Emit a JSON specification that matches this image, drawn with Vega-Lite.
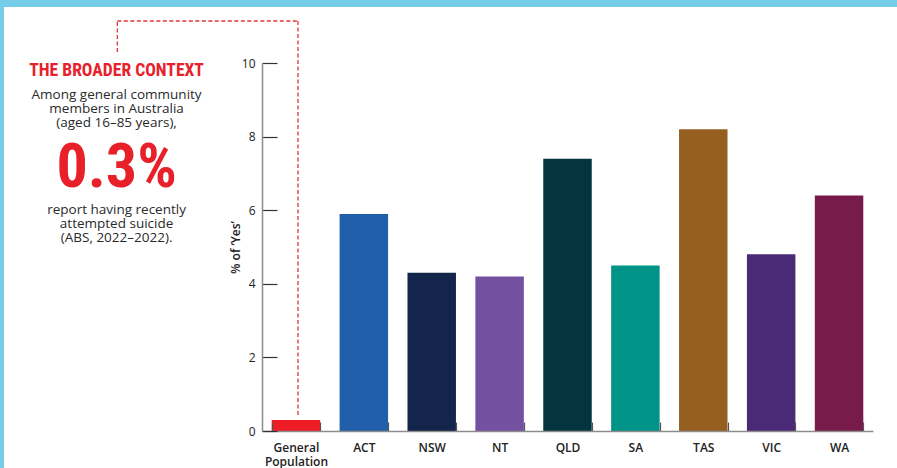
{
  "$schema": "https://vega.github.io/schema/vega-lite/v6.json",
  "width": 611,
  "height": 368,
  "autosize": "none",
  "padding": {"left": 262, "top": 63, "right": 24, "bottom": 37},
  "background": "#ffffff",
  "config": {"view": {"stroke": null}, "font": "Open Sans"},
  "resolve": {"scale": {"x": "independent", "y": "independent", "color": "independent"}},
  "layer": [
    {
      "data": {"values": [
        {"region": "General Population", "pct": 0.3},
        {"region": "ACT", "pct": 5.9},
        {"region": "NSW", "pct": 4.3},
        {"region": "NT", "pct": 4.2},
        {"region": "QLD", "pct": 7.4},
        {"region": "SA", "pct": 4.5},
        {"region": "TAS", "pct": 8.2},
        {"region": "VIC", "pct": 4.8},
        {"region": "WA", "pct": 6.4}
      ]},
      "mark": {"type": "bar"},
      "encoding": {
        "x": {
          "field": "region", "type": "nominal", "sort": null,
          "scale": {"paddingInner": 0.286, "paddingOuter": 0.143},
          "axis": {
            "title": null, "labelAngle": 0, "domainColor": "#8c8c8c", "domainWidth": 1.5,
            "tickColor": "#555555", "tickSize": -9, "tickWidth": 1.2, "tickBand": "extent",
            "labelPadding": 20, "labelFont": "Open Sans", "labelFontWeight": 600,
            "labelFontSize": 12, "labelColor": "#222222", "labelLineHeight": 14,
            "labelExpr": "datum.value == 'General Population' ? ['General', 'Population'] : datum.value",
            "zindex": 1
          }
        },
        "y": {
          "field": "pct", "type": "quantitative", "scale": {"domain": [0, 10]},
          "axis": {
            "title": "% of ‘Yes’", "values": [0, 2, 4, 6, 8, 10], "grid": false,
            "domainColor": "#8c8c8c", "domainWidth": 1.5, "tickColor": "#333333",
            "tickSize": -15, "tickWidth": 1.2, "labelPadding": 22, "labelFont": "Open Sans",
            "labelFontWeight": 500, "labelFontSize": 12, "labelColor": "#222222",
            "titleFont": "Open Sans", "titleFontWeight": 600, "titleFontSize": 12,
            "titleColor": "#222222", "titlePadding": -1, "zindex": 1
          }
        },
        "color": {
          "field": "region", "type": "nominal", "legend": null,
          "scale": {
            "domain": ["General Population", "ACT", "NSW", "NT", "QLD", "SA", "TAS", "VIC", "WA"],
            "range": ["#EE1D25", "#215FAB", "#13254B", "#7451A0", "#04353F", "#009387", "#965F22", "#4A2A77", "#781A4A"]
          }
        }
      }
    },
    {
      "data": {"values": [{}]},
      "layer": [
        {
          "mark": {"type": "rect", "color": "#76CDE8"},
          "encoding": {
            "x": {"datum": -43.5, "type": "quantitative", "scale": {"domain": [0, 100]}, "axis": null},
            "x2": {"datum": 104},
            "y": {"datum": 11.9, "type": "quantitative", "scale": {"domain": [0, 10]}, "axis": null},
            "y2": {"datum": 11.522}
          }
        },
        {
          "mark": {"type": "rect", "color": "#76CDE8"},
          "encoding": {
            "x": {"datum": -43.5, "type": "quantitative", "scale": {"domain": [0, 100]}, "axis": null},
            "x2": {"datum": -42.23},
            "y": {"datum": 11.9, "type": "quantitative", "scale": {"domain": [0, 10]}, "axis": null},
            "y2": {"datum": -1.1}
          }
        },
        {
          "mark": {"type": "rule", "color": "#E0353D", "strokeWidth": 1.3, "strokeDash": [4, 2.5]},
          "encoding": {
            "x": {"datum": -23.68, "type": "quantitative", "scale": {"domain": [0, 100]}, "axis": null},
            "y": {"datum": 10.3, "type": "quantitative", "scale": {"domain": [0, 10]}, "axis": null},
            "y2": {"datum": 11.141}
          }
        },
        {
          "mark": {"type": "rule", "color": "#E0353D", "strokeWidth": 1.3, "strokeDash": [4, 2.5]},
          "encoding": {
            "x": {"datum": -23.68, "type": "quantitative", "scale": {"domain": [0, 100]}, "axis": null},
            "x2": {"datum": 5.89},
            "y": {"datum": 11.141, "type": "quantitative", "scale": {"domain": [0, 10]}, "axis": null}
          }
        },
        {
          "mark": {"type": "rule", "color": "#E0353D", "strokeWidth": 1.3, "strokeDash": [4, 2.5]},
          "encoding": {
            "x": {"datum": 5.89, "type": "quantitative", "scale": {"domain": [0, 100]}, "axis": null},
            "y": {"datum": 11.141, "type": "quantitative", "scale": {"domain": [0, 10]}, "axis": null},
            "y2": {"datum": 0.435}
          }
        },
        {
          "mark": {"type": "text", "text": "THE BROADER CONTEXT", "align": "center", "baseline": "alphabetic",
                   "font": "'Roboto Condensed', 'DejaVu Sans Condensed', 'Liberation Sans'", "fontWeight": "bold", "fontSize": 17.6, "color": "#E8202A"},
          "encoding": {
            "x": {"datum": -23.8, "type": "quantitative", "scale": {"domain": [0, 100]}, "axis": null},
            "y": {"datum": 9.647, "type": "quantitative", "scale": {"domain": [0, 10]}, "axis": null}
          }
        },
        {
          "mark": {"type": "text", "text": ["Among general community", "members in Australia", "(aged 16–85 years),"],
                   "align": "center", "baseline": "alphabetic", "lineHeight": 14,
                   "font": "Open Sans", "fontSize": 13.5, "color": "#2a2a2a"},
          "encoding": {
            "x": {"datum": -23.8, "type": "quantitative", "scale": {"domain": [0, 100]}, "axis": null},
            "y": {"datum": 9.022, "type": "quantitative", "scale": {"domain": [0, 10]}, "axis": null}
          }
        },
        {
          "mark": {"type": "text", "text": "0.3%", "align": "center", "baseline": "alphabetic",
                   "font": "'Roboto Condensed', 'DejaVu Sans Condensed', 'Liberation Sans'", "fontWeight": "bold", "fontSize": 62, "color": "#E8202A"},
          "encoding": {
            "x": {"datum": -23.8, "type": "quantitative", "scale": {"domain": [0, 100]}, "axis": null},
            "y": {"datum": 6.63, "type": "quantitative", "scale": {"domain": [0, 10]}, "axis": null}
          }
        },
        {
          "mark": {"type": "text", "text": ["report having recently", "attempted suicide", "(ABS, 2022–2022)."],
                   "align": "center", "baseline": "alphabetic", "lineHeight": 14,
                   "font": "Open Sans", "fontSize": 13.5, "color": "#2a2a2a"},
          "encoding": {
            "x": {"datum": -23.8, "type": "quantitative", "scale": {"domain": [0, 100]}, "axis": null},
            "y": {"datum": 5.897, "type": "quantitative", "scale": {"domain": [0, 10]}, "axis": null}
          }
        }
      ]
    }
  ]
}
